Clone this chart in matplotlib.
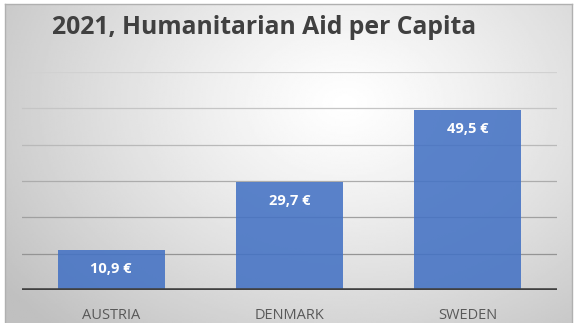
import matplotlib.pyplot as plt
import numpy as np

# chart data
countries = ["AUSTRIA", "DENMARK", "SWEDEN"]
aid_per_capita = [10.9, 29.7, 49.5]
value_labels = ["10,9 €", "29,7 €", "49,5 €"]

plt.rcParams['font.family'] = ['Open Sans', 'DejaVu Sans']

W, H = 577, 323
fig = plt.figure(figsize=(W / 100, H / 100), dpi=100, facecolor='white')

# chart frame with a radial gray fill, lightest near the upper middle
# (the frame runs past the bottom of the picture, as in the screenshot)
bx0, bx1, by0, by1 = 5, 572, 4, 335
bg = fig.add_axes([bx0 / W, 1 - by1 / H, (bx1 - bx0) / W, (by1 - by0) / H], zorder=0)
yy, xx = np.mgrid[0:1:200j, 0:1:300j]
r = np.sqrt(((xx - 0.6) / 0.75) ** 2 + ((yy - 0.7) / 0.95) ** 2)
bg.imshow(1 - 0.25 * np.clip(r, 0, 1) ** 1.2, cmap='gray', vmin=0, vmax=1,
          extent=[0, 1, 0, 1], aspect='auto', origin='lower')
bg.set_xticks([])
bg.set_yticks([])
for s in bg.spines.values():
    s.set_color('#b0b0b0')
    s.set_linewidth(1)

left, right = 22 / W, 557 / W
bottom, top = 1 - 290 / H, 1 - 72 / H
ax = fig.add_axes([left, bottom, right - left, top - bottom], zorder=1)
ax.patch.set_alpha(0)

x = np.arange(len(countries))
ax.set_ylim(0, 60)
ax.set_xlim(-0.5, len(countries) - 0.5)
for v in range(10, 61, 10):
    shade = 0.58 + 0.24 * (v - 10) / 50
    ax.axhline(v, color=str(shade), lw=0.9, zorder=1)
ax.bar(x, aid_per_capita, width=0.6, color='#4472C4', alpha=0.88, zorder=2)
ax.axhline(0, color='#404040', lw=2.6, zorder=3)

for xi, val, lab in zip(x, aid_per_capita, value_labels):
    ax.annotate(lab, (xi, val), xytext=(0, -19), textcoords='offset pixels',
                ha='center', va='center', color='white', fontsize=10.5,
                fontweight='bold', zorder=4)

ax.set_xticks(x)
ax.set_xticklabels(countries, fontsize=10.5, color='#595959')
ax.tick_params(axis='x', length=0, pad=13)
ax.set_yticks([])
for s in ax.spines.values():
    s.set_visible(False)

fig.text(52 / W, 1 - 28 / H, "2021, Humanitarian Aid per Capita", ha='left',
         va='center', fontsize=17.8, fontweight='bold', color='#404040')

fig.savefig("out.png", dpi=100)
